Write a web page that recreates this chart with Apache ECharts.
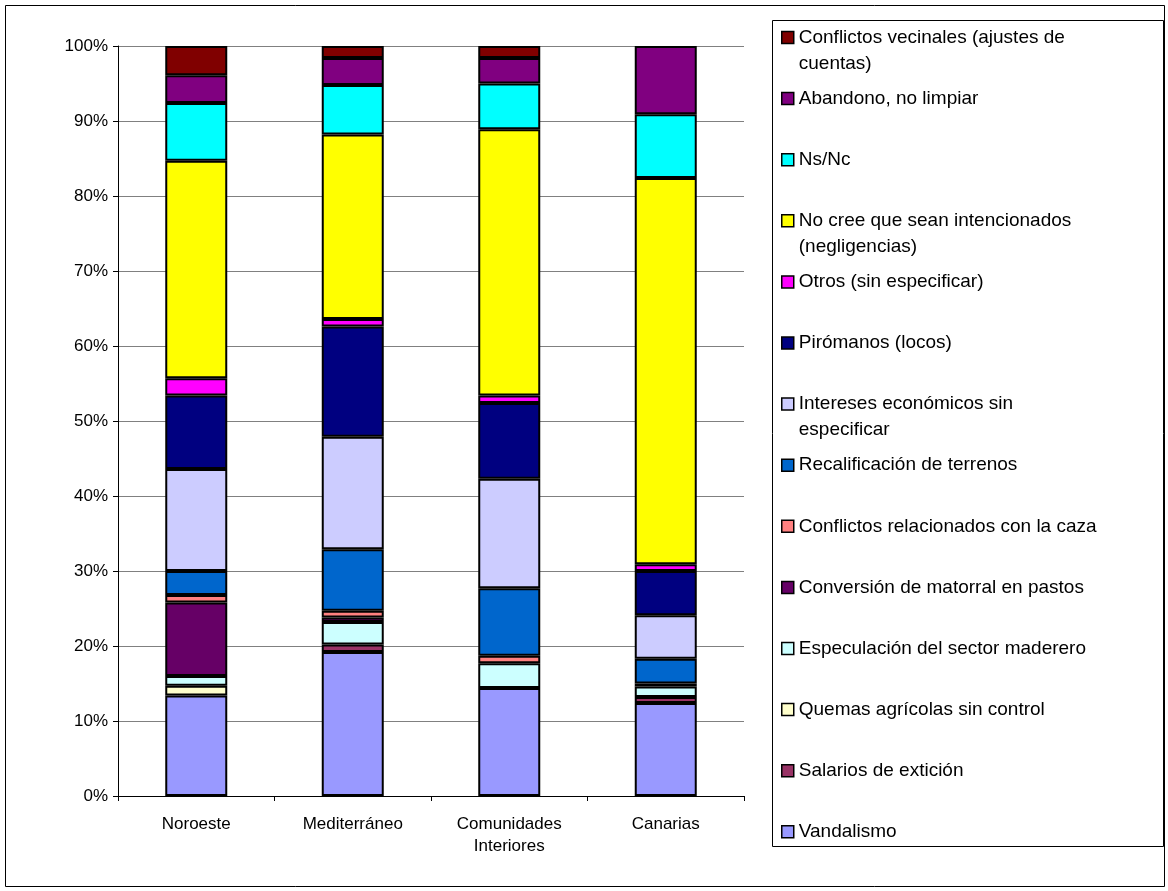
<!DOCTYPE html>
<html>
<head>
<meta charset="utf-8">
<script src="https://cdn.jsdelivr.net/npm/echarts@6/dist/echarts.min.js"></script>
<style>
  html, body { margin: 0; padding: 0; background: #fff; }
  #main { width: 1168px; height: 891px; }
</style>
</head>
<body>
<div id="main"></div>
<script>
// categorias (eje x)
const categories = ['Noroeste', 'Mediterráneo', 'Comunidades\nInteriores', 'Canarias'];
const yTicks = [0, 10, 20, 30, 40, 50, 60, 70, 80, 90, 100];

// porcentajes por region: Noroeste, Mediterraneo, Comunidades Interiores, Canarias
const vandalismo   = [13.4, 19.2, 14.4, 12.4];
const salarios     = [0, 1.0, 0, 0.8];
const quemas       = [1.3, 0, 0, 0];
const especulacion = [1.3, 3.0, 3.3, 1.4];
const conversion   = [9.8, 0.6, 0, 0.4];
const caza         = [1.0, 0.9, 1.0, 0];
const recalif      = [3.2, 8.2, 9.0, 3.3];
const intereses    = [13.6, 15.0, 14.6, 5.8];
const piromanos    = [9.8, 14.7, 10.1, 5.9];
const otros        = [2.3, 1.0, 1.0, 0.9];
const noIntenc     = [29.0, 24.6, 35.5, 51.5];
const nsnc         = [7.7, 6.6, 6.1, 8.5];
const abandono     = [3.7, 3.6, 3.4, 9.1];
const vecinales    = [3.9, 1.6, 1.6, 0];

// de abajo hacia arriba en la pila
const stack = [
  { name: 'Vandalismo', data: vandalismo, color: '#9999FF' },
  { name: 'Salarios de extición', data: salarios, color: '#993366' },
  { name: 'Quemas agrícolas sin control', data: quemas, color: '#FFFFCC' },
  { name: 'Especulación del sector maderero', data: especulacion, color: '#CCFFFF' },
  { name: 'Conversión de matorral en pastos', data: conversion, color: '#660066' },
  { name: 'Conflictos relacionados con la caza', data: caza, color: '#FF8080' },
  { name: 'Recalificación de terrenos', data: recalif, color: '#0066CC' },
  { name: 'Intereses económicos sin especificar', data: intereses, color: '#CCCCFF' },
  { name: 'Pirómanos (locos)', data: piromanos, color: '#000080' },
  { name: 'Otros (sin especificar)', data: otros, color: '#FF00FF' },
  { name: 'No cree que sean intencionados (negligencias)', data: noIntenc, color: '#FFFF00' },
  { name: 'Ns/Nc', data: nsnc, color: '#00FFFF' },
  { name: 'Abandono, no limpiar', data: abandono, color: '#800080' },
  { name: 'Conflictos vecinales (ajustes de cuentas)', data: vecinales, color: '#800000' }
];

// cortes de linea en la leyenda
const wrapped = {
  'Conflictos vecinales (ajustes de cuentas)': 'Conflictos vecinales (ajustes de\ncuentas)',
  'No cree que sean intencionados (negligencias)': 'No cree que sean intencionados\n(negligencias)',
  'Intereses económicos sin especificar': 'Intereses económicos sin\nespecificar'
};

const FONT = 'Liberation Sans, Arial, sans-serif';
const LH = 26;

var series = stack.map(function (s) {
  return {
    name: s.name,
    type: 'bar',
    stack: 'total',
    barWidth: 62,
    data: s.data.map(function (v) { return v === 0 ? '-' : v; }),
    itemStyle: { color: s.color, borderColor: '#000', borderWidth: 2 },
    emphasis: { disabled: true }
  };
});

// una leyenda por elemento, de arriba hacia abajo
var legendOrder = stack.slice().reverse();
var legends = legendOrder.map(function (s, i) {
  var center = 37.5 + 61.1 * i;
  var two = !!wrapped[s.name];
  return {
    data: [s.name],
    left: 781,
    top: two ? center - 1.5 * LH : center - LH / 2,
    padding: 0,
    icon: 'rect',
    itemWidth: 12,
    itemHeight: 12,
    itemGap: 0,
    selectedMode: false,
    itemStyle: { borderColor: '#000', borderWidth: 1.5 },
    textStyle: { fontFamily: FONT, fontSize: 19, color: '#000', lineHeight: LH },
    formatter: function (name) {
      return wrapped[name] ? '\n' + wrapped[name] : name;
    }
  };
});

var mychart = echarts.init(document.getElementById('main'));
var option = {
  animation: false,
  backgroundColor: '#fff',
  grid: { left: 118, right: 424, top: 46, bottom: 95 },
  legend: legends,
  graphic: [
    {
      type: 'rect', left: 3, top: 3, silent: true,
      shape: { width: 1159, height: 881 },
      style: { fill: 'none', stroke: '#000', lineWidth: 1 }
    },
    {
      type: 'rect', left: 770, top: 18, silent: true,
      shape: { width: 391, height: 826 },
      style: { fill: 'none', stroke: '#000', lineWidth: 1 }
    }
  ],
  xAxis: {
    type: 'category',
    data: categories,
    axisLine: { lineStyle: { color: '#000', width: 1 } },
    axisTick: { show: true, length: 5, lineStyle: { color: '#000' } },
    axisLabel: { color: '#000', fontFamily: FONT, fontSize: 17, margin: 17, lineHeight: 22 }
  },
  yAxis: {
    type: 'value',
    min: yTicks[0],
    max: yTicks[yTicks.length - 1],
    interval: 10,
    axisLine: { show: true, lineStyle: { color: '#000', width: 1 } },
    axisTick: { show: true, length: 5, lineStyle: { color: '#000' } },
    axisLabel: { color: '#000', fontFamily: FONT, fontSize: 17, margin: 10, formatter: '{value}%' },
    splitLine: { show: true, lineStyle: { color: '#808080', width: 1 } }
  },
  series: series
};
mychart.setOption(option);
</script>
</body>
</html>
